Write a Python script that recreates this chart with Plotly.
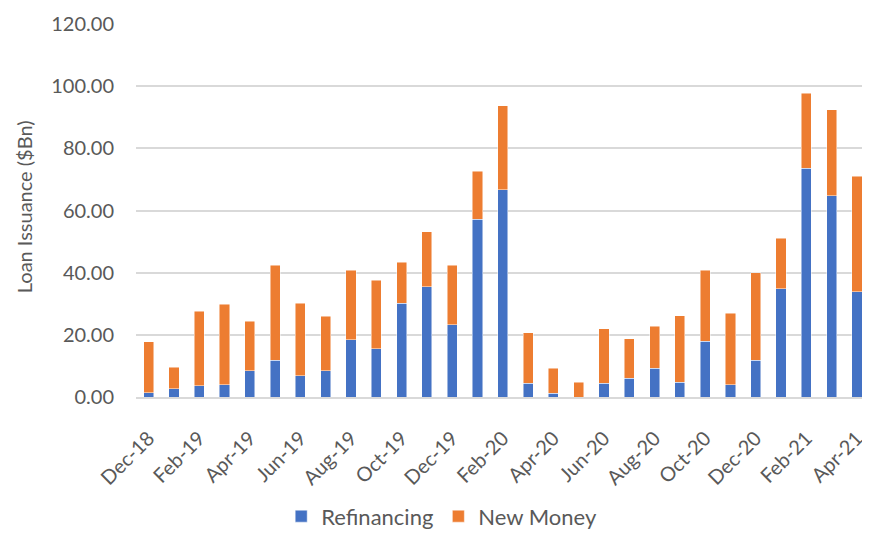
import plotly.graph_objs as go

# -----------------------------------------------------------
# Data ($Bn)
# -----------------------------------------------------------
months = [
    "Dec-18", "Jan-19", "Feb-19", "Mar-19", "Apr-19", "May-19", "Jun-19",
    "Jul-19", "Aug-19", "Sep-19", "Oct-19", "Nov-19", "Dec-19", "Jan-20",
    "Feb-20", "Mar-20", "Apr-20", "May-20", "Jun-20", "Jul-20", "Aug-20",
    "Sep-20", "Oct-20", "Nov-20", "Dec-20", "Jan-21", "Feb-21", "Mar-21",
    "Apr-21",
]
refinancing = [
    1.4, 2.7, 3.6, 4.0, 8.5, 11.8, 6.8, 8.5, 18.4, 15.5, 30.2, 35.5, 23.3,
    57.2, 66.6, 4.4, 1.2, 0.0, 4.4, 6.0, 9.3, 4.8, 17.9, 4.0, 11.8, 34.8,
    73.6, 64.7, 33.9,
]
totals = [
    17.8, 9.6, 27.6, 29.8, 24.3, 42.4, 30.2, 26.0, 40.8, 37.5, 43.3, 53.1,
    42.4, 72.7, 93.7, 20.7, 9.3, 4.8, 22.0, 18.7, 22.8, 26.1, 40.8, 26.9,
    40.0, 51.1, 97.8, 92.4, 71.1,
]
new_money = [round(t - r, 1) for t, r in zip(totals, refinancing)]

FONT = "Lato"
GREY = "#595959"

xpos = list(range(len(months)))
tick_idx = xpos[::2]

fig = go.Figure()

for name, vals, color in [
    ("Refinancing", refinancing, "#4472C4"),
    ("New Money", new_money, "#ED7D31"),
]:
    fig.add_trace(
        go.Bar(
            x=xpos,
            y=vals,
            name=name,
            customdata=months,
            hovertemplate="%{customdata}: %{y:.2f}<extra>" + name + "</extra>",
            marker=dict(color=color, line=dict(color="rgba(255,255,255,0.6)", width=0.8)),
            width=0.4,
        )
    )

# sizes/margins tuned to how the page is captured (8px body margin at left/top)
fig.update_layout(
    barmode="stack",
    width=862,
    height=537,
    plot_bgcolor="white",
    paper_bgcolor="white",
    margin=dict(l=128, r=8, t=16, b=137),
    font=dict(family=FONT, size=20, color=GREY),
    showlegend=True,
    legend=dict(
        orientation="h",
        x=0.2,
        xanchor="left",
        y=-0.32,
        yanchor="middle",
        font=dict(size=22, color=GREY),
        traceorder="normal",
    ),
    xaxis=dict(
        range=[-0.5, 28.2],
        tickmode="array",
        tickvals=tick_idx,
        ticktext=[months[i] for i in tick_idx],
        tickangle=-45,
        tickfont=dict(size=20, color=GREY),
        showgrid=False,
        zeroline=False,
        showline=True,
        linecolor="#D9D9D9",
        linewidth=1.5,
        ticks="",
        ticklabelstandoff=20,
        ticklabeloverflow="allow",
        automargin=False,
    ),
    yaxis=dict(
        range=[0, 120],
        dtick=20,
        tickformat=".2f",
        tickfont=dict(size=20, color=GREY),
        showgrid=True,
        gridcolor="#D9D9D9",
        gridwidth=1.5,
        zeroline=False,
        ticks="",
        ticklabelstandoff=21,
        automargin=False,
    ),
)

# y-axis title as an annotation at the far left, like the original
fig.add_annotation(
    text="Loan Issuance ($Bn)",
    xref="paper", yref="paper",
    x=-0.155, y=0.51,
    xanchor="center", yanchor="middle",
    textangle=-90,
    showarrow=False,
    font=dict(size=20, color=GREY),
)

fig.write_html("out.html")
